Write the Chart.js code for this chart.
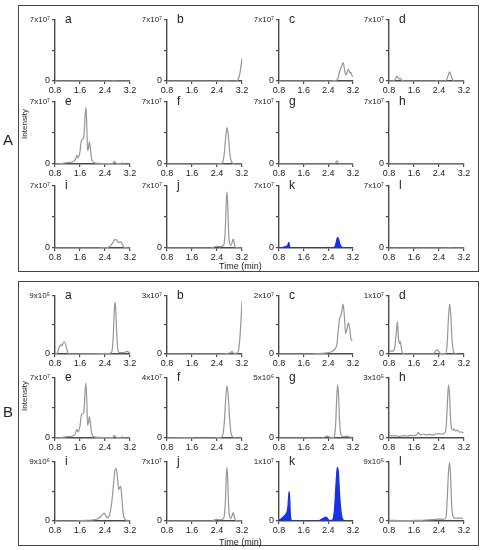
<!DOCTYPE html>
<html>
<head>
<meta charset="utf-8">
<script src="https://cdn.jsdelivr.net/npm/chart.js@4.4.1/dist/chart.umd.min.js"></script>
<style>
body { margin: 0; background: #fff; font-family: "Liberation Sans", Arial, sans-serif; }
#fig { position: relative; width: 484px; height: 550px; overflow: hidden; }
.frame { position: absolute; border: 1.5px solid #444; box-sizing: border-box; }
canvas, .lbl { position: absolute; }
.lbl { color: #222; white-space: nowrap; line-height: 1; }
</style>
</head>
<body>
<div id="fig"></div>
<script>
// ---- data ----
const letters = ['a', 'b', 'c', 'd', 'e', 'f', 'g', 'h', 'i', 'j', 'k', 'l'];
const timeTicks = [0.8, 1.6, 2.4, 3.2];

const maxA = [7e7, 7e7, 7e7, 7e7, 7e7, 7e7, 7e7, 7e7, 7e7, 7e7, 7e7, 7e7];
const labelsA = ['7x10⁷', '7x10⁷', '7x10⁷', '7x10⁷', '7x10⁷', '7x10⁷', '7x10⁷', '7x10⁷', '7x10⁷', '7x10⁷', '7x10⁷', '7x10⁷'];
const maxB = [9e5, 3e7, 2e7, 1e7, 7e7, 4e7, 5e6, 3e5, 9e6, 7e7, 1e7, 9e5];
const labelsB = ['9x10⁵', '3x10⁷', '2x10⁷', '1x10⁷', '7x10⁷', '4x10⁷', '5x10⁶', '3x10⁵', '9x10⁶', '7x10⁷', '1x10⁷', '9x10⁵'];
const filledLetter = 'k';

// traces: [time (min), intensity]
const Aa = [[0.8, 0], [2.6, 0], [2.7, 3e5], [2.76, 0], [3.2, 0]];
const Ab = [[0.8, 0], [2.6, 0], [2.7, 2e5], [2.8, 0], [3.0, 0], [3.06, 1e6], [3.1, 4e6], [3.14, 1.0e7], [3.17, 1.8e7], [3.2, 2.6e7]];
const Ac = [[0.8, 0], [2.5, 0], [2.6, 5e5], [2.7, 2e6], [2.76, 1.0e7], [2.82, 1.6e7], [2.88, 2.1e7], [2.93, 1.2e7], [2.96, 7e6], [3.0, 9e6], [3.05, 1.35e7], [3.1, 9e6], [3.13, 1.0e7], [3.17, 6e6], [3.19, 5e6]];
const Ad = [[0.8, 0], [0.95, 2e5], [1.0, 2e6], [1.06, 5.5e6], [1.11, 2.5e6], [1.16, 3e6], [1.22, 5e5], [1.3, 0], [2.25, 0], [2.32, 5e5], [2.38, 0], [2.6, 0], [2.65, 2e6], [2.7, 7e6], [2.74, 1.05e7], [2.78, 7e6], [2.83, 2e6], [2.88, 2e5], [2.92, 0], [3.2, 0]];
const Ae = [[0.8, 0], [1.0, 5e5], [1.2, 1.5e6], [1.4, 3e6], [1.45, 5e6], [1.5, 1.0e7], [1.54, 7e6], [1.6, 1.4e7], [1.64, 2.6e7], [1.68, 2.8e7], [1.72, 3.0e7], [1.76, 5.2e7], [1.79, 6.4e7], [1.82, 4.0e7], [1.84, 1.5e7], [1.87, 1.8e7], [1.9, 2.5e7], [1.93, 1.8e7], [1.97, 6e6], [2.03, 2e6], [2.1, 1e6], [2.5, 5e5], [2.64, 5e5], [2.7, 3e6], [2.76, 8e5], [2.9, 5e5], [2.95, 1.2e6], [3.0, 3e5], [3.2, 0]];
const Af = [[0.8, 0], [1.6, 0], [1.62, 2e5], [1.66, 0], [2.3, 0], [2.4, 3e5], [2.5, 3e5], [2.56, 1.0e6], [2.6, 4e6], [2.64, 1.4e7], [2.68, 3.1e7], [2.72, 4.1e7], [2.76, 3.3e7], [2.8, 1.6e7], [2.84, 5e6], [2.88, 1.5e6], [2.95, 3e5], [3.0, 0], [3.2, 0]];
const Ag = [[0.8, 0], [2.6, 0], [2.68, 3.5e6], [2.76, 0], [3.2, 0]];
const Ah = [[0.8, 0], [3.2, 0]];
const Ai = [[0.8, 0], [2.2, 0], [2.4, 5e5], [2.55, 1.5e6], [2.65, 6e6], [2.72, 9.5e6], [2.78, 9e6], [2.83, 6e6], [2.88, 7e6], [2.92, 6.5e6], [2.97, 3e6], [3.02, 5e5], [3.2, 0]];
const Aj = [[0.8, 0], [2.2, 0], [2.3, 1e6], [2.4, 2e6], [2.5, 1.5e6], [2.6, 2.5e6], [2.64, 8e6], [2.67, 2.5e7], [2.7, 5.5e7], [2.72, 6.3e7], [2.74, 5.2e7], [2.77, 2.0e7], [2.8, 6e6], [2.84, 3e6], [2.88, 6e6], [2.92, 1.0e7], [2.96, 4e6], [3.0, 5e5], [3.2, 0]];
const Ak = [[0.8, 0], [0.9, 5e5], [1.0, 1.5e6], [1.08, 3e6], [1.12, 6.5e6], [1.15, 1e6], [1.2, 0], [2.2, 0], [2.3, 5e5], [2.4, 3e5], [2.55, 0], [2.62, 2e6], [2.66, 7e6], [2.7, 1.2e7], [2.74, 9e6], [2.78, 4e6], [2.83, 1e6], [2.88, 0], [3.2, 0]];
const Al = [[0.8, 0], [2.65, 0], [2.72, 2e5], [2.8, 0], [3.2, 0]];

const Ba = [[0.8, 0], [0.88, 2e4], [0.93, 1.0e5], [0.99, 1.45e5], [1.02, 1.25e5], [1.07, 1.8e5], [1.11, 1.9e5], [1.16, 1.1e5], [1.21, 2e4], [1.28, 0], [2.3, 5e3], [2.4, 1e4], [2.5, 5e3], [2.6, 2e4], [2.64, 1.0e5], [2.67, 3.5e5], [2.7, 7.0e5], [2.72, 8.0e5], [2.74, 7.2e5], [2.77, 3.8e5], [2.8, 1.2e5], [2.84, 3e4], [2.9, 2e4], [3.0, 2e4], [3.1, 4e4], [3.15, 3e4], [3.2, 1e4]];
const Bb = [[0.8, 0], [2.5, 0], [2.8, 5e5], [2.88, 1.2e6], [2.95, 3e5], [3.05, 5e5], [3.1, 3e6], [3.14, 1.0e7], [3.17, 1.8e7], [3.2, 2.7e7]];
const Bc = [[0.8, 0], [1.8, 0], [2.0, 1e5], [2.3, 3e5], [2.5, 8e5], [2.6, 1.5e6], [2.68, 3.5e6], [2.72, 8e6], [2.76, 1.2e7], [2.8, 1.3e7], [2.84, 1.5e7], [2.88, 1.72e7], [2.92, 1.3e7], [2.96, 7e6], [3.0, 8.5e6], [3.05, 1.07e7], [3.09, 9e6], [3.13, 5.5e6], [3.17, 4.5e6]];
const Bd = [[0.8, 5e5], [0.92, 5e5], [0.98, 1.0e6], [1.03, 3.5e6], [1.07, 5.6e6], [1.1, 3.0e6], [1.13, 1.8e6], [1.16, 2.2e6], [1.19, 1.2e6], [1.23, 2e5], [1.3, 0], [2.2, 0], [2.28, 4e5], [2.34, 7e5], [2.4, 4e5], [2.45, 5e4], [2.6, 5e4], [2.64, 6e5], [2.67, 2.5e6], [2.7, 6.0e6], [2.74, 8.6e6], [2.78, 6.5e6], [2.81, 3e6], [2.85, 8e5], [2.9, 1e5], [2.95, 0], [3.0, 0]];
const Be = Ae;
const Bf = [[0.8, 0], [1.6, 2e5], [1.65, 0], [2.3, 0], [2.4, 3e5], [2.5, 3e5], [2.56, 9e5], [2.6, 3.5e6], [2.64, 1.2e7], [2.68, 2.65e7], [2.72, 3.5e7], [2.76, 2.8e7], [2.8, 1.4e7], [2.84, 4.5e6], [2.88, 1.3e6], [2.95, 3e5], [3.0, 0], [3.2, 0]];
const Bg = [[0.8, 0], [2.2, 0], [2.3, 1e5], [2.38, 1.5e5], [2.45, 5e4], [2.58, 5e4], [2.61, 3e5], [2.64, 1.3e6], [2.67, 3.2e6], [2.7, 4.4e6], [2.73, 3.6e6], [2.76, 1.6e6], [2.8, 4e5], [2.85, 1.5e5], [2.9, 1.2e5], [3.0, 1.5e5], [3.08, 1e5], [3.15, 5e4]];
const Bh = [[0.8, 1.5e4], [0.9, 1.0e4], [1.0, 1.2e4], [1.1, 8e3], [1.2, 1.0e4], [1.3, 1.2e4], [1.4, 1.0e4], [1.5, 1.3e4], [1.6, 1.2e4], [1.68, 1.5e4], [1.74, 2.8e4], [1.8, 1.5e4], [1.9, 2.0e4], [2.0, 1.5e4], [2.1, 1.8e4], [2.2, 1.5e4], [2.3, 2.0e4], [2.4, 2.2e4], [2.5, 1.8e4], [2.6, 3e4], [2.63, 6e4], [2.66, 1.4e5], [2.69, 2.4e5], [2.71, 2.65e5], [2.74, 2.1e5], [2.77, 1.0e5], [2.8, 5e4], [2.84, 4e4], [2.88, 4.5e4], [2.93, 3.5e4], [2.98, 4e4], [3.05, 3e4], [3.12, 3e4], [3.18, 2.5e4]];
const Bi = [[0.8, 0], [1.4, 0], [1.6, 5e4], [1.8, 1e5], [2.0, 1.5e5], [2.15, 3e5], [2.25, 6e5], [2.32, 1.0e6], [2.37, 1.2e6], [2.42, 8e5], [2.47, 5e5], [2.55, 1.0e6], [2.62, 3.0e6], [2.68, 6.0e6], [2.72, 7.8e6], [2.76, 8.0e6], [2.8, 6.5e6], [2.84, 4.8e6], [2.87, 5.1e6], [2.9, 5.3e6], [2.94, 3.5e6], [2.98, 1.2e6], [3.03, 3e5], [3.1, 1e5], [3.2, 0]];
const Bj = Aj;
const Bk = [[0.8, 1e5], [0.9, 5e5], [1.0, 1.0e6], [1.06, 1.6e6], [1.09, 2.5e6], [1.11, 4.0e6], [1.13, 5.0e6], [1.15, 3.5e6], [1.17, 1.0e6], [1.2, 1e5], [1.24, 0], [2.05, 0], [2.15, 2e5], [2.25, 5e5], [2.31, 6.5e5], [2.37, 5e5], [2.42, 1e5], [2.52, 1e5], [2.56, 5e5], [2.6, 2e6], [2.64, 5.5e6], [2.68, 8.6e6], [2.7, 9.1e6], [2.73, 8.0e6], [2.76, 5e6], [2.8, 2.2e6], [2.84, 7e5], [2.88, 2e5], [2.94, 0]];
const Bl = [[0.8, 1e4], [1.0, 1e4], [1.2, 5e3], [1.5, 8e3], [1.8, 1e4], [2.0, 1.5e4], [2.2, 2e4], [2.4, 3e4], [2.5, 2.5e4], [2.6, 3e4], [2.63, 8e4], [2.66, 3e5], [2.7, 7.2e5], [2.74, 8.9e5], [2.77, 7.0e5], [2.8, 3.0e5], [2.84, 8e4], [2.9, 4.5e4], [3.0, 4.5e4], [3.1, 4.5e4], [3.17, 4e4]];

const tracesA = [Aa, Ab, Ac, Ad, Ae, Af, Ag, Ah, Ai, Aj, Ak, Al];
const tracesB = [Ba, Bb, Bc, Bd, Be, Bf, Bg, Bh, Bi, Bj, Bk, Bl];

// ---- layout ----
const colX = [55, 167, 279, 389];
const colW = [75, 75, 74, 75];
const rowsA = [[20, 81], [102, 164], [186, 248]];
const rowsB = [[296, 354], [378, 438], [462, 521]];
const axisColor = '#4a4a4a';
const lineGray = '#969696';
const fillBlue = '#1b30e0';
const family = '"Liberation Sans", Arial, sans-serif';

const fig = document.getElementById('fig');

function addDiv(cls, css, text) {
    const d = document.createElement('div');
    d.className = cls;
    Object.assign(d.style, css);
    if (text) d.textContent = text;
    fig.appendChild(d);
    return d;
}

function makePlot(L, T, W, H, trace, yMax, yLabel, letter) {
    const padL = 36, padT = 7, padR = 10, padB = 16;
    const cv = document.createElement('canvas');
    cv.width = padL + W + padR;
    cv.height = padT + H + padB;
    cv.style.left = (L - padL) + 'px';
    cv.style.top = (T - padT) + 'px';
    fig.appendChild(cv);
    const isFill = letter === filledLetter;

    const grid = { drawOnChartArea: false, drawTicks: true, tickLength: 3, color: axisColor, lineWidth: 1.2 };
    const border = { display: true, color: axisColor, width: 1.4 };

    new Chart(cv, {
        type: 'line',
        data: {
            datasets: [{
                data: trace.map(p => ({ x: p[0], y: p[1] })),
                borderColor: isFill ? fillBlue : lineGray,
                backgroundColor: fillBlue,
                fill: isFill ? 'origin' : false,
                borderWidth: 1.2,
                pointRadius: 0,
                cubicInterpolationMode: 'monotone'
            }]
        },
        options: {
            responsive: false,
            animation: false,
            layout: { padding: { top: padT, right: padR, left: 0, bottom: 0 } },
            plugins: { legend: { display: false }, tooltip: { enabled: false } },
            scales: {
                x: {
                    type: 'linear', min: 0.8, max: 3.2,
                    afterBuildTicks: s => { s.ticks = timeTicks.map(v => ({ value: v })); },
                    afterFit: s => { s.height = padB; },
                    grid, border,
                    ticks: {
                        padding: 1, maxRotation: 0, autoSkip: false, color: '#1a1a1a',
                        font: { size: 9, family },
                        callback: v => v.toFixed(1)
                    }
                },
                y: {
                    type: 'linear', min: 0, max: yMax,
                    afterBuildTicks: s => { s.ticks = [0, yMax / 2, yMax].map(v => ({ value: v })); },
                    afterFit: s => { s.width = padL; },
                    grid, border,
                    ticks: {
                        padding: 2, autoSkip: false, color: '#1a1a1a',
                        font: c => ({ size: c.index === 2 ? 8 : 9, family }),
                        callback: (v, i) => i === 0 ? '0' : (i === 2 ? yLabel : '')
                    }
                }
            }
        }
    });

    addDiv('lbl', { left: (L + 10) + 'px', top: (T - 7) + 'px', fontSize: '12px' }, letter);
}

function makePanel(top, height, rows, traces, maxes, labels, panelName, intensityY, timeY) {
    addDiv('frame', { left: '18px', top: top + 'px', width: '461px', height: height + 'px' });
    for (let i = 0; i < 12; i++) {
        const r = Math.floor(i / 4), c = i % 4;
        const [t, z] = rows[r];
        makePlot(colX[c], t, colW[c], z - t, traces[i], maxes[i], labels[i], letters[i]);
    }
    addDiv('lbl', { left: '3px', top: (intensityY + 8) + 'px', fontSize: '15px' }, panelName);
    addDiv('lbl', { left: '25px', top: intensityY + 'px', fontSize: '8px', transform: 'translate(-50%, -50%) rotate(-90deg)' }, 'Intensity');
    addDiv('lbl', { left: '219px', top: timeY + 'px', fontSize: '9px' }, 'Time (min)');
}

makePanel(5, 267, rowsA, tracesA, maxA, labelsA, 'A', 124, 262);
makePanel(281, 265, rowsB, tracesB, maxB, labelsB, 'B', 396, 538);
</script>
</body>
</html>
